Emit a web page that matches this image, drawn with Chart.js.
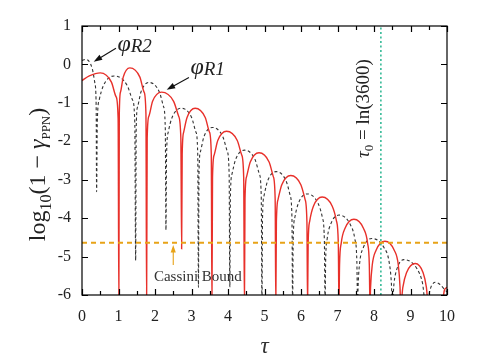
<!DOCTYPE html>
<html>
<head>
<meta charset="utf-8">
<script src="https://cdn.jsdelivr.net/npm/chart.js@4.4.1/dist/chart.umd.min.js"></script>
<style>
  html, body { margin: 0; padding: 0; background: #fff; }
</style>
</head>
<body>
<canvas id="c" width="485" height="363"></canvas>
<script>
// phi_R1 (red, solid): tau and log10(1 - gamma)
const phiR1Tau = [
  0, 0.2, 0.5, 0.806, 0.933, 0.99, 1.01,
  1.022, 1.055, 1.13, 1.31, 1.586, 1.701, 1.752, 1.77,
  1.786, 1.832, 1.934, 2.18, 2.51, 2.648, 2.708, 2.73,
  2.745, 2.786, 2.878, 3.1, 3.376, 3.491, 3.542, 3.56,
  3.576, 3.62, 3.72, 3.96, 4.254, 4.376, 4.43, 4.45,
  4.466, 4.51, 4.61, 4.85, 5.126, 5.241, 5.292, 5.31,
  5.326, 5.372, 5.474, 5.72, 5.996, 6.111, 6.162, 6.18,
  6.196, 6.24, 6.34, 6.58, 6.856, 6.971, 7.022, 7.04,
  7.056, 7.102, 7.204, 7.45, 7.714, 7.824, 7.872, 7.89,
  7.906, 7.952, 8.054, 8.3, 8.558, 8.666, 8.713, 8.73,
  8.79, 8.89, 9.13, 9.346, 9.436, 9.49,
  9.85, 9.93, 10
];
const phiR1Log = [
  -0.42, -0.3, -0.22, -0.46, -0.84, -1.42, -6.3,
  -1.29, -0.72, -0.33, -0.09, -0.33, -0.72, -1.29, -6.3,
  -1.92, -1.35, -0.96, -0.72, -0.96, -1.35, -1.92, -4.8,
  -2.34, -1.76, -1.38, -1.14, -1.38, -1.76, -2.34, -6.3,
  -2.94, -2.36, -1.98, -1.74, -1.98, -2.36, -2.94, -6.3,
  -3.5, -2.92, -2.54, -2.3, -2.54, -2.92, -3.5, -6.3,
  -4.09, -3.51, -3.13, -2.89, -3.13, -3.51, -4.09, -6.3,
  -4.65, -4.07, -3.69, -3.45, -3.69, -4.07, -4.65, -6.3,
  -5.23, -4.65, -4.27, -4.03, -4.27, -4.65, -5.23, -6.3,
  -5.8, -5.22, -4.84, -4.6, -4.84, -5.22, -5.8, -6.3,
  -5.8, -5.42, -5.18, -5.42, -5.8, -6.3,
  -6.3, -5.87, -5.8
];

// phi_R2 (black, dotted)
const phiR2Tau = [
  0, 0.1, 0.28, 0.355, 0.388, 0.4,
  0.419, 0.472, 0.592, 0.88, 1.234, 1.382, 1.446, 1.47,
  1.485, 1.526, 1.618, 1.84, 2.116, 2.231, 2.282, 2.3,
  2.317, 2.363, 2.468, 2.72, 3.002, 3.12, 3.171, 3.19,
  3.205, 3.247, 3.342, 3.57, 3.858, 3.978, 4.031, 4.05,
  4.066, 4.11, 4.21, 4.45, 4.738, 4.858, 4.911, 4.93,
  4.946, 4.989, 5.086, 5.32, 5.59, 5.703, 5.752, 5.77,
  5.786, 5.83, 5.93, 6.17, 6.464, 6.587, 6.64, 6.66,
  6.675, 6.717, 6.812, 7.04, 7.346, 7.474, 7.53, 7.55,
  7.566, 7.609, 7.706, 7.94, 8.276, 8.416, 8.478, 8.5,
  8.548, 8.628, 8.82, 9.18, 9.33, 9.42,
  9.524, 9.576, 9.68, 9.8, 9.9, 10
];
const phiR2Log = [
  0.1, 0.13, -0.11, -0.5, -1.08, -3.31,
  -1.5, -0.92, -0.54, -0.3, -0.54, -0.92, -1.5, -5.1,
  -1.67, -1.09, -0.71, -0.47, -0.71, -1.09, -1.67, -4.31,
  -2.34, -1.76, -1.38, -1.14, -1.38, -1.76, -2.34, -5.8,
  -2.84, -2.26, -1.88, -1.64, -1.88, -2.26, -2.84, -5.8,
  -3.43, -2.85, -2.47, -2.23, -2.47, -2.85, -3.43, -6.3,
  -3.99, -3.41, -3.03, -2.79, -3.03, -3.41, -3.99, -6.3,
  -4.57, -3.99, -3.61, -3.37, -3.61, -3.99, -4.57, -6.3,
  -5.12, -4.54, -4.16, -3.92, -4.16, -4.54, -5.12, -6.3,
  -5.73, -5.15, -4.77, -4.53, -4.77, -5.15, -5.73, -6.3,
  -5.7, -5.32, -5.08, -5.32, -5.7, -6.3,
  -5.91, -5.76, -5.67, -5.72, -5.82, -5.92
];

const cassiniBound = -4.64;
const tau0 = Math.log(3600);
const xRange = [0, 10];
const yRange = [-6, 1];

const serif = "'Liberation Serif', 'DejaVu Serif', serif";

function pairs(xs, ys) {
  return xs.map((v, i) => ({ x: v, y: ys[i] }));
}

function drawRuns(ctx, x, y, parts) {
  let cx = x;
  for (const p of parts) {
    ctx.font = p.f;
    ctx.fillText(p.t, cx, y + (p.dy || 0));
    cx += ctx.measureText(p.t).width;
  }
}
function runsWidth(ctx, parts) {
  let w = 0;
  for (const p of parts) { ctx.font = p.f; w += ctx.measureText(p.t).width; }
  return w;
}
function arrow(ctx, x1, y1, x2, y2, color, head) {
  ctx.strokeStyle = color; ctx.fillStyle = color; ctx.lineWidth = 1.1;
  const ang = Math.atan2(y2 - y1, x2 - x1);
  ctx.beginPath();
  ctx.moveTo(x1, y1);
  ctx.lineTo(x2 - head * 0.7 * Math.cos(ang), y2 - head * 0.7 * Math.sin(ang));
  ctx.stroke();
  ctx.beginPath();
  ctx.moveTo(x2, y2);
  ctx.lineTo(x2 - head * Math.cos(ang - 0.33), y2 - head * Math.sin(ang - 0.33));
  ctx.lineTo(x2 - head * Math.cos(ang + 0.33), y2 - head * Math.sin(ang + 0.33));
  ctx.closePath();
  ctx.fill();
}

const framePlugin = {
  id: 'framePlugin',
  afterDatasetsDraw(chart) {
    const { ctx, chartArea: a, scales: { x, y } } = chart;
    ctx.save();
    ctx.strokeStyle = '#000';
    ctx.lineWidth = 1.2;
    ctx.strokeRect(a.left, a.top, a.right - a.left, a.bottom - a.top);
    ctx.beginPath();
    for (let v = xRange[0]; v <= xRange[1]; v += 0.5) {
      const px = Math.round(x.getPixelForValue(v)) + 0.5;
      const len = v % 1 === 0 ? 6 : 4;
      ctx.moveTo(px, a.bottom); ctx.lineTo(px, a.bottom - len);
      ctx.moveTo(px, a.top); ctx.lineTo(px, a.top + len);
    }
    for (let v = yRange[0]; v <= yRange[1]; v++) {
      const py = Math.round(y.getPixelForValue(v)) + 0.5;
      ctx.moveTo(a.left, py); ctx.lineTo(a.left + 6, py);
      ctx.moveTo(a.right, py); ctx.lineTo(a.right - 6, py);
    }
    ctx.stroke();

    ctx.fillStyle = '#222';
    ctx.textBaseline = 'alphabetic';

    // curve labels and arrows
    drawRuns(ctx, x.getPixelForValue(0.97), y.getPixelForValue(0.34), [
      { t: 'φ', f: `italic 24px ${serif}` },
      { t: 'R2', f: `italic 19px ${serif}`, dy: 1 }
    ]);
    arrow(ctx, x.getPixelForValue(0.93), y.getPixelForValue(0.42),
      x.getPixelForValue(0.32), y.getPixelForValue(0.07), '#111', 9);
    ctx.fillStyle = '#222';
    drawRuns(ctx, x.getPixelForValue(2.97), y.getPixelForValue(-0.26), [
      { t: 'φ', f: `italic 24px ${serif}` },
      { t: 'R1', f: `italic 19px ${serif}`, dy: 1 }
    ]);
    arrow(ctx, x.getPixelForValue(2.93), y.getPixelForValue(-0.34),
      x.getPixelForValue(2.32), y.getPixelForValue(-0.66), '#111', 9);

    // Cassini bound
    arrow(ctx, x.getPixelForValue(2.5), y.getPixelForValue(-5.22),
      x.getPixelForValue(2.5), y.getPixelForValue(-4.7), '#e8a317', 8);
    ctx.fillStyle = '#333';
    ctx.font = `15px ${serif}`;
    ctx.fillText('Cassini Bound', x.getPixelForValue(1.97), y.getPixelForValue(-5.64));

    // tau0 label, rotated
    const tauParts = [
      { t: 'τ', f: `italic 19px ${serif}` },
      { t: '0', f: `13px ${serif}`, dy: 4 },
      { t: ' = ln(3600)', f: `19px ${serif}` }
    ];
    ctx.save();
    ctx.translate(x.getPixelForValue(7.85), y.getPixelForValue(-1.15));
    ctx.rotate(-Math.PI / 2);
    ctx.fillStyle = '#222';
    drawRuns(ctx, -runsWidth(ctx, tauParts) / 2, 0, tauParts);
    ctx.restore();

    // axis titles
    const yParts = [
      { t: 'log', f: `24px ${serif}` },
      { t: '10', f: `16px ${serif}`, dy: 6 },
      { t: '(1 − ', f: `24px ${serif}` },
      { t: 'γ', f: `italic 24px ${serif}` },
      { t: 'PPN', f: `13px ${serif}`, dy: 5 },
      { t: ')', f: `24px ${serif}` }
    ];
    ctx.save();
    ctx.translate(45, (a.top + a.bottom) / 2 + 14);
    ctx.rotate(-Math.PI / 2);
    ctx.fillStyle = '#222';
    drawRuns(ctx, -runsWidth(ctx, yParts) / 2, 0, yParts);
    ctx.restore();

    ctx.font = `italic 23px ${serif}`;
    ctx.textAlign = 'center';
    ctx.fillText('τ', (a.left + a.right) / 2, 353);
    ctx.restore();
  }
};

new Chart(document.getElementById('c').getContext('2d'), {
  type: 'line',
  data: {
    datasets: [
      {
        label: 'Cassini bound',
        data: [{ x: xRange[0], y: cassiniBound }, { x: xRange[1], y: cassiniBound }],
        borderColor: '#e8a317', borderWidth: 2, borderDash: [5, 4]
      },
      {
        label: 'tau0',
        data: [{ x: tau0, y: yRange[0] }, { x: tau0, y: yRange[1] }],
        borderColor: '#1ab088', borderWidth: 1.4, borderDash: [2, 2.5]
      },
      {
        label: 'phi R1',
        data: pairs(phiR1Tau, phiR1Log),
        borderColor: '#e8302a', borderWidth: 1.4,
        cubicInterpolationMode: 'monotone'
      },
      {
        label: 'phi R2',
        data: pairs(phiR2Tau, phiR2Log),
        borderColor: '#333', borderWidth: 1.1, borderDash: [3, 2.5],
        cubicInterpolationMode: 'monotone'
      }
    ]
  },
  options: {
    responsive: false,
    animation: false,
    devicePixelRatio: 1,
    layout: { padding: { top: 26, right: 38, left: 0, bottom: 0 } },
    elements: { point: { radius: 0 } },
    plugins: { legend: { display: false }, tooltip: { enabled: false } },
    scales: {
      x: {
        type: 'linear', min: xRange[0], max: xRange[1],
        ticks: { stepSize: 1, color: '#222', padding: 12, maxRotation: 0, font: { family: serif, size: 16 } },
        grid: { display: false, drawTicks: false },
        border: { display: false },
        afterFit(s) { s.height = 68; }
      },
      y: {
        type: 'linear', min: yRange[0], max: yRange[1],
        ticks: { stepSize: 1, color: '#222', padding: 11, font: { family: serif, size: 16 } },
        grid: { display: false, drawTicks: false },
        border: { display: false },
        afterFit(s) { s.width = 82; }
      }
    }
  },
  plugins: [framePlugin]
});
</script>
</body>
</html>
